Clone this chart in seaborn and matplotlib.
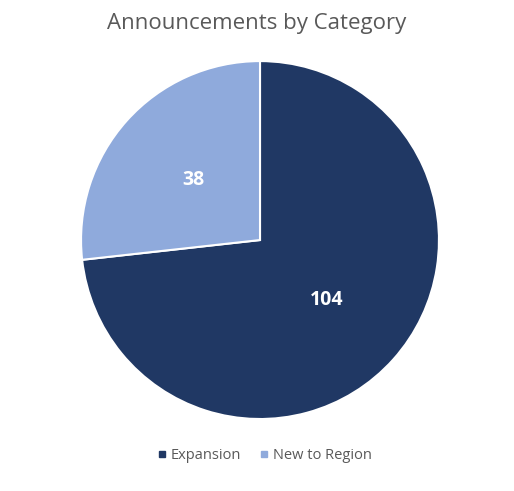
import matplotlib
matplotlib.use("Agg")
import matplotlib.pyplot as plt
import seaborn as sns
from matplotlib.lines import Line2D

# chart data
categories = ["Expansion", "New to Region"]
counts = [104, 38]
colors = ["#203864", "#8FAADC"]

sns.set_theme(style="white")
plt.rcParams["font.family"] = ["Open Sans", "DejaVu Sans"]
palette = sns.color_palette(colors)

fig = plt.figure(figsize=(5.14, 4.91), dpi=100)
ax = fig.add_axes([0.1576, 0.1466, 0.6965, 0.729])

wedges, texts, autotexts = ax.pie(
    counts,
    colors=palette,
    startangle=90,
    counterclock=False,
    autopct=lambda p: "{:.0f}".format(p * sum(counts) / 100),
    pctdistance=0.5,
    wedgeprops=dict(edgecolor="white", linewidth=1.5),
    textprops=dict(color="white", fontsize=14, fontweight="bold"),
)
ax.set_xlim(-1, 1)
ax.set_ylim(-1, 1)
ax.set_aspect("equal")

fig.text(0.5, 0.952, "Announcements by Category", ha="center", va="center",
         fontsize=16, color="#595959")

# legend along the bottom
handles = [Line2D([0], [0], marker="s", linestyle="", markersize=5,
                  markerfacecolor=c, markeredgecolor=c) for c in palette]
fig.legend(handles, categories, loc="center", bbox_to_anchor=(0.512, 0.073),
           ncol=2, frameon=False, fontsize=10.5, labelcolor="#595959",
           handletextpad=0.1, columnspacing=1.1, handlelength=1.0)

fig.savefig("out.png", dpi=100)
